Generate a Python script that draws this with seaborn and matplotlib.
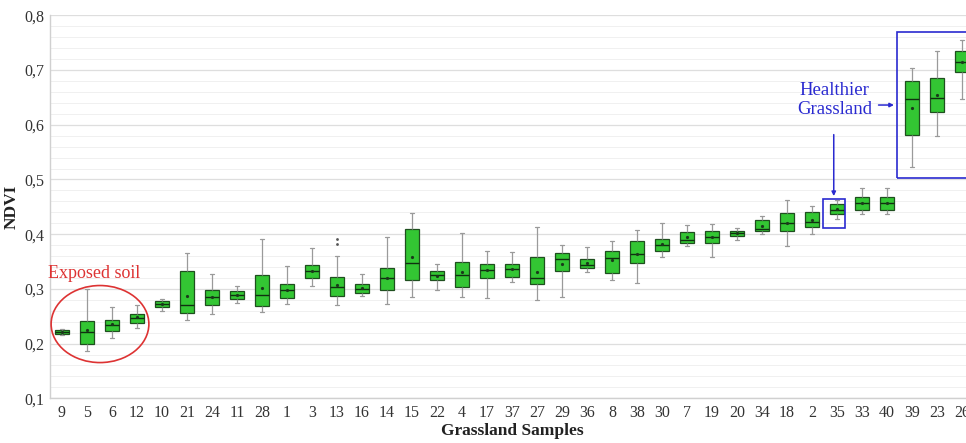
import numpy as np
import pandas as pd
import matplotlib
matplotlib.use("Agg")
import matplotlib.pyplot as plt
from matplotlib.patches import Ellipse, Rectangle
from matplotlib.ticker import MultipleLocator, FuncFormatter
import seaborn as sns

# ---------------- data ----------------
samples = ["9", "5", "6", "12", "10", "21", "24", "11", "28", "1", "3", "13", "16",
           "14", "15", "22", "4", "17", "37", "27", "29", "36", "8", "38", "30", "7",
           "19", "20", "34", "18", "2", "35", "33", "40", "39", "23", "26"]
whisker_low = [0.216, 0.187, 0.211, 0.228, 0.260, 0.243, 0.254, 0.275, 0.257, 0.272,
               0.305, 0.270, 0.287, 0.272, 0.286, 0.298, 0.286, 0.283, 0.312, 0.280,
               0.286, 0.330, 0.317, 0.310, 0.358, 0.378, 0.358, 0.389, 0.400, 0.378,
               0.400, 0.427, 0.436, 0.436, 0.522, 0.580, 0.647]
q1 = [0.218, 0.199, 0.223, 0.238, 0.266, 0.255, 0.270, 0.281, 0.268, 0.284,
      0.320, 0.287, 0.293, 0.298, 0.317, 0.316, 0.304, 0.319, 0.322, 0.309,
      0.332, 0.338, 0.329, 0.347, 0.369, 0.383, 0.383, 0.396, 0.405, 0.405,
      0.413, 0.436, 0.445, 0.445, 0.581, 0.624, 0.697]
median = [0.221, 0.221, 0.234, 0.247, 0.273, 0.270, 0.285, 0.289, 0.288, 0.298,
          0.332, 0.303, 0.300, 0.319, 0.348, 0.325, 0.325, 0.334, 0.336, 0.320,
          0.355, 0.343, 0.356, 0.364, 0.381, 0.389, 0.395, 0.402, 0.410, 0.421,
          0.422, 0.445, 0.457, 0.457, 0.647, 0.649, 0.714]
q3 = [0.224, 0.241, 0.244, 0.254, 0.278, 0.333, 0.298, 0.297, 0.326, 0.308,
      0.343, 0.322, 0.308, 0.338, 0.409, 0.333, 0.350, 0.346, 0.346, 0.358,
      0.366, 0.355, 0.369, 0.387, 0.392, 0.404, 0.406, 0.406, 0.425, 0.438,
      0.441, 0.455, 0.467, 0.467, 0.680, 0.685, 0.734]
whisker_high = [0.226, 0.299, 0.266, 0.270, 0.281, 0.365, 0.328, 0.306, 0.392, 0.342,
                0.374, 0.360, 0.327, 0.395, 0.439, 0.345, 0.402, 0.369, 0.367, 0.413,
                0.380, 0.376, 0.387, 0.408, 0.421, 0.416, 0.418, 0.411, 0.434, 0.462,
                0.451, 0.462, 0.484, 0.484, 0.703, 0.734, 0.754]
means = [0.221, 0.224, 0.236, 0.248, 0.273, 0.287, 0.285, 0.289, 0.301, 0.298,
         0.333, 0.307, 0.301, 0.320, 0.359, 0.324, 0.331, 0.334, 0.336, 0.331,
         0.346, 0.347, 0.353, 0.364, 0.382, 0.394, 0.395, 0.402, 0.415, 0.421,
         0.426, 0.446, 0.457, 0.457, 0.631, 0.654, 0.714]
outlier_samples = ["13", "13"]
outlier_values = [0.391, 0.382]

# long-form table built from the five-number summaries
rows = []
for s, a, b, c, d, e in zip(samples, whisker_low, q1, median, q3, whisker_high):
    for v in (a, b, c, d, e):
        rows.append({"sample": s, "ndvi": v})
df = pd.DataFrame(rows)
df_mean = pd.DataFrame({"sample": samples, "ndvi": means})
df_out = pd.DataFrame({"sample": outlier_samples, "ndvi": outlier_values})

# ---------------- style ----------------
sns.set_theme(style="white")
plt.rcParams["font.family"] = ["Liberation Serif", "DejaVu Serif"]

W, H = 966, 443
fig = plt.figure(figsize=(W / 100, H / 100), dpi=100)
left_px, right_px, top_px, bot_px = 49.5, 974.5, 15.3, 398.3
ax = fig.add_axes([left_px / W, (H - bot_px) / H, (right_px - left_px) / W, (bot_px - top_px) / H])

green = "#33c633"
edge = "#1f4f1f"
grey = "#9a9a9a"

sns.boxplot(data=df, x="sample", y="ndvi", order=samples, ax=ax, whis=(0, 100),
            width=0.58, color=green, linecolor=edge, linewidth=0.9, showfliers=False,
            saturation=1, capwidths=0.16,
            boxprops=dict(facecolor=green, edgecolor=edge),
            whiskerprops=dict(color=grey, linewidth=0.9),
            capprops=dict(color=grey, linewidth=0.9),
            medianprops=dict(color="#103010", linewidth=1.0))

sns.stripplot(data=df_mean, x="sample", y="ndvi", order=samples, ax=ax, jitter=False,
              color="#1a3a1a", size=2.3, marker="o", linewidth=0, zorder=5)
sns.stripplot(data=df_out, x="sample", y="ndvi", order=samples, ax=ax, jitter=False,
              color="#555555", size=2.0, marker="o", linewidth=0, zorder=5)

ax.set_xlim(-0.5, len(samples) - 0.5)
ax.set_ylim(0.1, 0.8)
ax.yaxis.set_major_locator(MultipleLocator(0.1))
ax.yaxis.set_minor_locator(MultipleLocator(0.02))
ax.yaxis.set_major_formatter(FuncFormatter(lambda v, p: f"{v:.1f}".replace(".", ",")))
ax.grid(axis="y", which="major", color="#dedede", linewidth=0.9, zorder=0)
ax.grid(axis="y", which="minor", color="#f0f0f0", linewidth=0.7, zorder=0)
ax.set_axisbelow(True)
for sp in ["top", "right"]:
    ax.spines[sp].set_visible(False)
for sp in ["left", "bottom"]:
    ax.spines[sp].set_color("#d0d0d0")
    ax.spines[sp].set_linewidth(1.0)
ax.tick_params(axis="both", which="both", length=0, labelsize=11.5, colors="#333333")
ax.tick_params(axis="x", pad=5)
ax.tick_params(axis="y", pad=4)

ax.set_xlabel("Grassland Samples", fontsize=12.5, fontweight="bold", color="#222222", labelpad=1)
ax.set_ylabel("NDVI", fontsize=12.5, fontweight="bold", color="#222222", labelpad=3)

# ---------------- annotations ----------------
red = "#dd3333"
blue = "#2a2ad0"
ax.add_patch(Ellipse((1.52, 0.2357), 3.91, 0.1408, fill=False, edgecolor=red, linewidth=1.2,
                     clip_on=False, zorder=6))
ax.text(1.28, 0.329, "Exposed soil", color=red, fontsize=13, ha="center", va="center", zorder=6)

ax.add_patch(Rectangle((33.39, 0.5026), 5.0, 0.770 - 0.5026, fill=False, edgecolor=blue,
                       linewidth=1.2, clip_on=False, zorder=6))
ax.add_patch(Rectangle((30.43, 0.411), 0.88, 0.4642 - 0.411, fill=False, edgecolor=blue,
                       linewidth=1.2, clip_on=False, zorder=6))
ax.text(30.91, 0.645, "Healthier\nGrassland", color=blue, fontsize=13.5, ha="center",
        va="center", linespacing=1.15, zorder=6)
ax.annotate("", xy=(30.87, 0.4645), xytext=(30.87, 0.587),
            arrowprops=dict(arrowstyle="-|>", color=blue, lw=1.1, mutation_scale=6), zorder=6)
ax.annotate("", xy=(33.39, 0.636), xytext=(32.55, 0.636),
            arrowprops=dict(arrowstyle="-|>", color=blue, lw=1.1, mutation_scale=6), zorder=6)

fig.savefig("out.png", dpi=100)
